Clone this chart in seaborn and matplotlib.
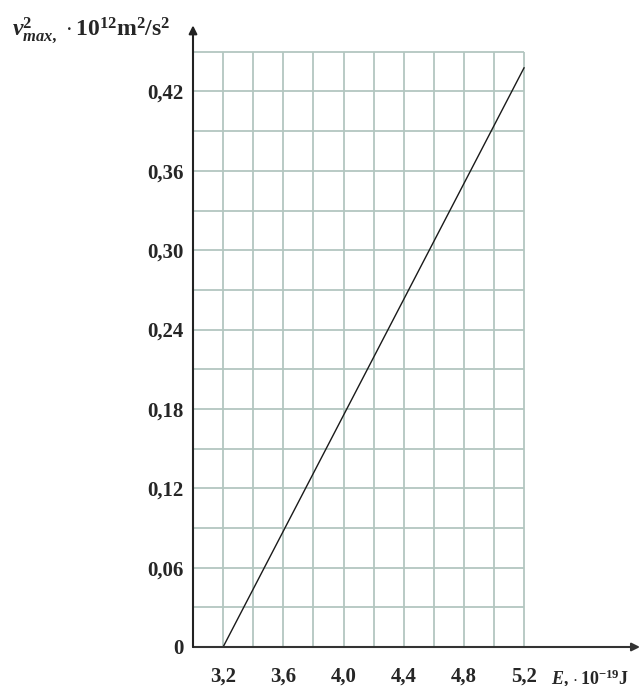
import numpy as np
import pandas as pd
import matplotlib
matplotlib.use('Agg')
import matplotlib.pyplot as plt
import seaborn as sns

# data: v^2_max vs photon energy E
energy = [3.2, 5.2]            # E, 10^-19 J
v2max = [0.0, 0.438]           # v^2_max, 10^12 m^2/s^2

x_ticks = [3.2, 3.6, 4.0, 4.4, 4.8, 5.2]
x_tick_labels = ['3,2', '3,6', '4,0', '4,4', '4,8', '5,2']
y_ticks = [0, 0.06, 0.12, 0.18, 0.24, 0.30, 0.36, 0.42]
y_tick_labels = ['0', '0,06', '0,12', '0,18', '0,24', '0,30', '0,36', '0,42']
x_grid = [3.2, 3.4, 3.6, 3.8, 4.0, 4.2, 4.4, 4.6, 4.8, 5.0, 5.2]
y_grid = [0.03, 0.06, 0.09, 0.12, 0.15, 0.18, 0.21, 0.24, 0.27, 0.30, 0.33, 0.36, 0.39, 0.42, 0.45]

sns.set_style('white')
plt.rcParams['font.family'] = ['Liberation Serif', 'DejaVu Serif']
plt.rcParams['mathtext.fontset'] = 'custom'
plt.rcParams['mathtext.rm'] = 'Liberation Serif'
plt.rcParams['mathtext.it'] = 'Liberation Serif:italic'
plt.rcParams['mathtext.bf'] = 'Liberation Serif:bold'
plt.rcParams['mathtext.bfit'] = 'Liberation Serif:italic:bold'

fig = plt.figure(figsize=(6.42, 6.86), dpi=100)
ax = fig.add_axes([193 / 642, 39 / 686, 447 / 642, 619 / 686])
ax.set_xlim(3.0, 5.97)
ax.set_ylim(0, 0.468)

grid_color = '#b3c6c0'
ax.vlines(x_grid, 0, 0.45, color=grid_color, lw=1.3, zorder=1)
ax.hlines(y_grid, 3.0, 5.2, color=grid_color, lw=1.3, zorder=1)

df = pd.DataFrame({'E': energy, 'v2': v2max})
sns.lineplot(data=df, x='E', y='v2', color='#1a1a1a', lw=1.0, ax=ax, zorder=3)

# axes with arrows
for s in ax.spines.values():
    s.set_visible(False)
ax.annotate('', xy=(5.97, 0), xytext=(3.0, 0), annotation_clip=False,
            arrowprops=dict(arrowstyle='-|>', color='#333333', lw=1.5,
                            mutation_scale=12, shrinkA=0, shrinkB=0), zorder=4)
ax.annotate('', xy=(3.0, 0.47), xytext=(3.0, 0), annotation_clip=False,
            arrowprops=dict(arrowstyle='-|>', color='#222222', lw=1.5,
                            mutation_scale=12, shrinkA=0, shrinkB=0), zorder=4)

ax.set_xticks(x_ticks)
ax.set_xticklabels(x_tick_labels, fontsize=15, fontweight='bold')
ax.set_yticks(y_ticks)
ax.set_yticklabels(y_tick_labels, fontsize=15, fontweight='bold')
ax.tick_params(axis='x', length=0, pad=14)
ax.tick_params(axis='y', length=0, pad=7)
ax.set_xlabel('')
ax.set_ylabel('')

ax.text(5.38, -0.0235,
        r'$\mathbfit{E}\mathbf{,}\,\cdot\mathbf{10^{-19}J}$',
        fontsize=13, ha='left', va='center', clip_on=False)
fig.text(12 / 642, 1 - 35 / 686,
         r'$\mathbfit{v}^{\mathbf{2}}_{\mathbfit{max,}}\,\cdot\mathbf{10^{12}m^{2}/s^{2}}$',
         fontsize=17, ha='left', va='baseline')

fig.savefig('out.png', dpi=100)
